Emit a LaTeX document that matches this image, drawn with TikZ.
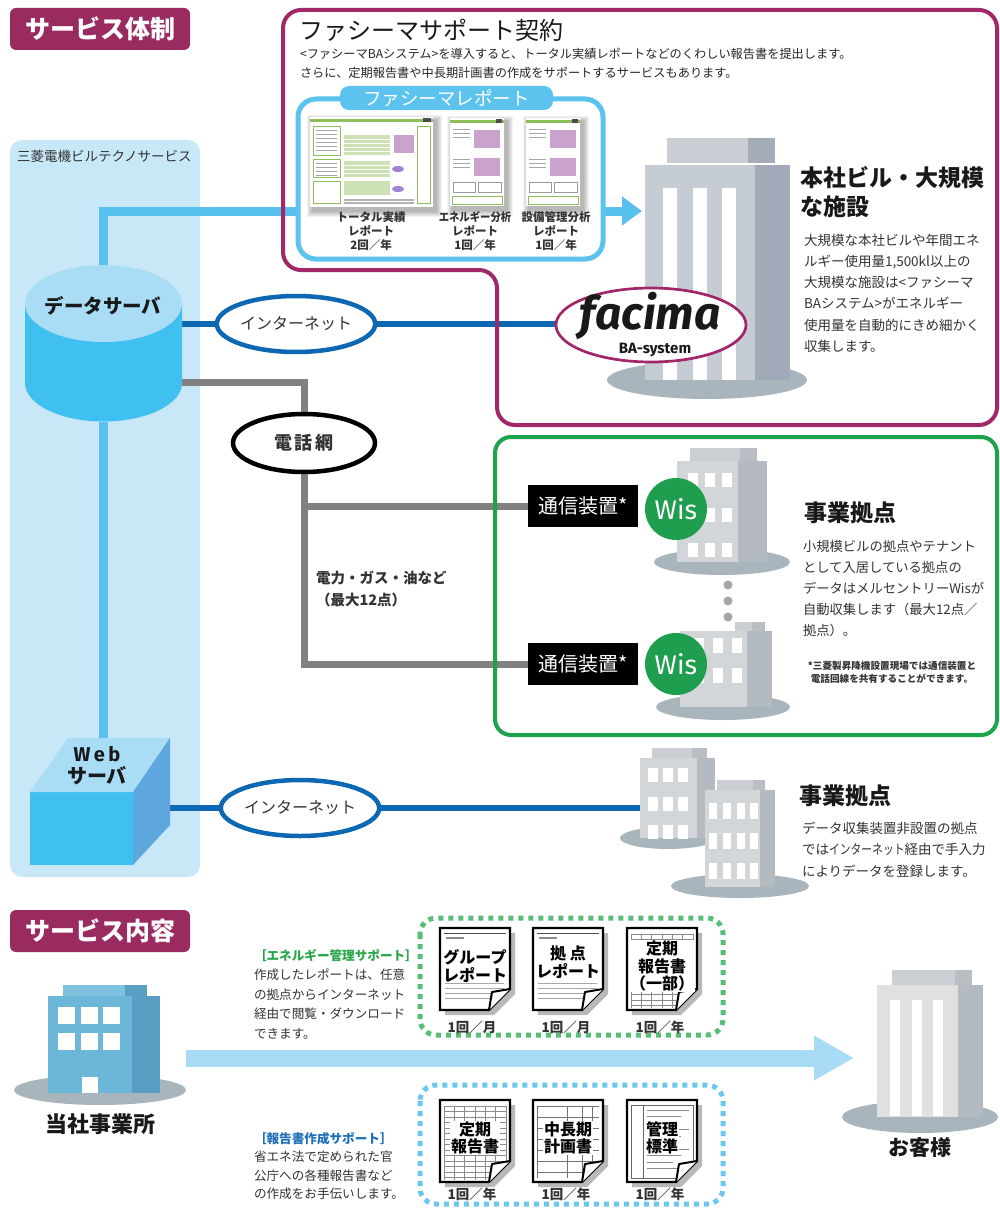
\documentclass[tikz,border=0pt]{standalone}
\usepackage{fontspec}
\usepackage{graphicx}
\setmainfont{Noto Sans CJK JP}
\newfontfamily\latinfont{Fira Sans}
\usetikzlibrary{arrows.meta,shapes.geometric,calc}
\pgfdeclarelayer{back}
\pgfdeclarelayer{wires}
\pgfsetlayers{back,wires,main}

\definecolor{tabmaroon}{HTML}{9A2B60}
\definecolor{contractpurple}{HTML}{A12769}
\definecolor{panelblue}{HTML}{C8E8F8}
\definecolor{skyblue}{HTML}{58C1EE}
\definecolor{reportblue}{HTML}{5BC3EE}
\definecolor{netblue}{HTML}{0C68B2}
\definecolor{wiregray}{HTML}{818181}
\definecolor{framegreen}{HTML}{1CA34C}
\definecolor{wisgreen}{HTML}{1E9E4E}
\definecolor{bodygray}{HTML}{D3D6D9}
\definecolor{sidegray}{HTML}{B3BAC1}
\definecolor{capgray}{HTML}{CBCFD3}
\definecolor{capdark}{HTML}{B8BEC4}
\definecolor{groundgray}{HTML}{A9B5BD}
\definecolor{towerbody}{HTML}{C6CCD4}
\definecolor{towerside}{HTML}{A2AAB9}
\definecolor{towercap}{HTML}{C9CED4}
\definecolor{towercapdark}{HTML}{A4ABB9}
\definecolor{cyltop}{HTML}{A9DCF5}
\definecolor{cylbody}{HTML}{3FC0F0}
\definecolor{cubeside}{HTML}{5DA7DE}
\definecolor{flowblue}{HTML}{A8DBF5}
\definecolor{officebody}{HTML}{6CB6D7}
\definecolor{officeside}{HTML}{579FC3}
\definecolor{officecap}{HTML}{7EC2DF}
\definecolor{dotgreen}{HTML}{56BE78}
\definecolor{dotblue}{HTML}{6CC7EF}
\definecolor{labelgreen}{HTML}{2AA64A}
\definecolor{labelblue}{HTML}{1F70B8}
\definecolor{textgray}{HTML}{333333}
\definecolor{thumbgreen}{HTML}{8DBE5A}
\definecolor{thumbpink}{HTML}{C9A3CB}

\newcommand\fsz[2]{\fontsize{#1}{#2}\selectfont}

% gray building parts: x1, y1, x2, y2, start of the shaded side
\newcommand\graybody[5]{%
  \fill[bodygray] (#1,#2) rectangle (#5,#4);
  \fill[sidegray] (#5,#2) rectangle (#3,#4);}
\newcommand\graycap[5]{%
  \fill[capgray] (#1,#2) rectangle (#5,#4);
  \fill[capdark] (#5,#2) rectangle (#3,#4);}

% soft shadow and paper of a report thumbnail
\newcommand\thumbpaper[4]{%
  \foreach \s in {1,...,6} \fill[black, opacity=0.05] (#1+3-\s,#2+4-\s) rectangle (#3+3+\s,#4+4+\s);
  \fill[white] (#1,#2) rectangle (#3,#4);}

% narrow report thumbnail contents (54 x 88)
\newcommand\narrowthumb[2]{%
  \begin{scope}[shift={(#1,#2)}]
    \fill[thumbgreen] (0,2) rectangle (54,5);
    \fill[black!70] (46,1) rectangle (52,5);
    \foreach \r in {0,1,2} \draw[black!35, line width=0.5pt] (3,11+\r*4) -- (20,11+\r*4);
    \fill[thumbpink] (24,12) rectangle (50,30);
    \foreach \r in {0,1,2} \draw[black!35, line width=0.5pt] (3,41+\r*4) -- (20,41+\r*4);
    \fill[thumbpink] (24,40) rectangle (50,58);
    \draw[black!40, line width=0.5pt] (3,64) rectangle (25,74) (28,64) rectangle (51,74);
    \draw[thumbgreen, line width=0.8pt] (2,78) rectangle (52,86);
  \end{scope}}

% document sheet with folded corner: x, y, contents macro
\newcommand\sheet[3]{%
  \fill[black!28] (#1+5,#2+5) -- (#1+75,#2+5) -- (#1+75,#2+66) -- (#1+54,#2+87) -- (#1+5,#2+87) -- cycle;
  \fill[white] (#1,#2) -- (#1+70,#2) -- (#1+70,#2+61) -- (#1+49,#2+82) -- (#1,#2+82) -- cycle;
  \begin{scope}
    \clip (#1,#2) -- (#1+70,#2) -- (#1+70,#2+61) -- (#1+49,#2+82) -- (#1,#2+82) -- cycle;
    #3{#1}{#2}
  \end{scope}
  \draw[line width=2.3pt, line join=miter] (#1,#2) -- (#1+70,#2) -- (#1+70,#2+61) -- (#1+49,#2+82) -- (#1,#2+82) -- cycle;
  \draw[line width=2pt, fill=white, line join=round] (#1+49,#2+82) -- (#1+52,#2+64) -- (#1+70,#2+61);}
\newcommand\sheetlines[2]{%
  \draw[black!70, line width=0.9pt] (#1+4,#2+5) -- (#1+66,#2+5);
  \fill[black!45] (#1+6,#2+9) rectangle (#1+24,#2+11);
  \foreach \k in {0,...,4} \draw[black!35, line width=0.6pt] (#1+5,#2+50+\k*5) -- (#1+64,#2+50+\k*5);}
\newcommand\sheetform[2]{%
  \foreach \k in {0,...,13} \draw[black!45, line width=0.5pt] (#1+4,#2+6+\k*5.5) -- (#1+66,#2+6+\k*5.5);
  \foreach \k in {0,...,6} \draw[black!45, line width=0.5pt] (#1+4+\k*10.3,#2+6) -- (#1+4+\k*10.3,#2+80);}
\newcommand\sheettable[2]{%
  \foreach \k in {0,...,6} \draw[black!55, line width=0.6pt] (#1+4,#2+6+\k*11) -- (#1+66,#2+6+\k*11);
  \foreach \k in {0,30,45,55,66} \draw[black!55, line width=0.6pt] (#1+4+\k,#2+6) -- (#1+4+\k,#2+78);}
\newcommand\sheetmixed[2]{%
  \draw[black!60, line width=0.6pt] (#1+4,#2+5) rectangle (#1+66,#2+78);
  \draw[black!60, line width=0.6pt] (#1+16,#2+5) -- (#1+16,#2+78);
  \foreach \k/\w in {0/42,1/34,2/26,3/42,4/34,5/26,6/42,7/34,8/26,9/42} \draw[black!45, line width=1pt] (#1+20,#2+10+\k*6.5) -- (#1+20+\w,#2+10+\k*6.5);}

\begin{document}
\begin{tikzpicture}[x=1pt,y=-1pt,
  every node/.style={inner sep=0pt, outer sep=0pt},
  sectiontab/.style={fill=tabmaroon, rounded corners=6pt, text=white, font=\fsz{25}{30}\bfseries, minimum width=180pt, minimum height=42pt},
  netcloud/.style={ellipse, draw=netblue, line width=4.5pt, fill=white, minimum width=140pt, minimum height=56pt, font=\fsz{16}{19}, text=textgray},
  telcloud/.style={ellipse, draw=black, line width=4.5pt, fill=white, minimum width=142pt, minimum height=58pt, font=\fsz{18}{20}\bfseries, text=textgray},
  modem/.style={fill=black, text=white, minimum width=110pt, minimum height=42pt, font=\fsz{20}{24}},
  wis/.style={circle, fill=wisgreen, text=white, minimum size=62pt, font=\latinfont\fsz{27}{27}},
  skyline/.style={draw=skyblue, line width=9pt},
  netline/.style={draw=netblue, line width=6pt},
  telline/.style={draw=wiregray, line width=7pt},
  bodytext/.style={text=textgray, align=left, anchor=north west},
  heading/.style={font=\fsz{23}{29}\bfseries, anchor=north west, align=left, text=black!90},
  freq/.style={font=\fsz{13.5}{16}\bfseries, text=textgray},
  doctext/.style={font=\fsz{16}{17.5}\bfseries, align=center, fill=white, inner sep=1pt},
  thumblabel/.style={font=\fsz{11.5}{14}\bfseries, align=center, text=textgray},
]
\useasboundingbox (0,0) rectangle (1000,1209);
\begin{pgfonlayer}{back}
  \fill[white] (0,0) rectangle (1000,1209);
  \fill[panelblue, rounded corners=12pt] (10,140) rectangle (200,877);
\end{pgfonlayer}

% ---------- section tabs ----------
\node[sectiontab] (tabsystem) at (100,29) {サービス体制};
\node[sectiontab] (tabservice) at (100,931) {サービス内容};

\node[anchor=west, font=\fsz{13.5}{16}, text=textgray] (provider) at (17,156) {三菱電機ビルテクノサービス};

% ---------- facima support contract ----------
\draw[contractpurple, line width=4pt, rounded corners=18pt]
  (283,140) -- (283,10) -- (997,10) -- (997,425) -- (497,425) -- (497,270) -- (283,270) -- cycle;
\node[anchor=west, font=\fsz{24}{28}, text=black!90] (contracttitle) at (299,30) {ファシーマサポート契約};
\node[bodytext, font=\fsz{12.2}{19.5}, text=black!85] (contracttext) at (300,48)
  {<ファシーマBAシステム>を導入すると、トータル実績レポートなどのくわしい報告書を提出します。\\
   さらに、定期報告書や中長期計画書の作成をサポートするサービスもあります。};

% report panel
\draw[reportblue, line width=5pt, fill=white, rounded corners=18pt] (298,99) rectangle (603,259);
\node[fill=reportblue, rounded corners=9pt, minimum width=213pt, minimum height=24pt, text=white, font=\fsz{18.5}{20}] (reporttab) at (446.5,98) {ファシーマレポート};

% report thumbnails
\thumbpaper{310}{117}{433}{207}
\begin{scope}[shift={(310,117)}]
  \fill[thumbgreen] (0,2) rectangle (123,5);
  \fill[black!70] (113,1) rectangle (121,5);
  \draw[thumbgreen, line width=0.8pt] (3,9) rectangle (30,38) (3,42) rectangle (30,60) (3,64) rectangle (30,86) (107,9) rectangle (120,86);
  \foreach \r in {0,...,5} \draw[black!35, line width=0.5pt] (6,13+\r*4) -- (27,13+\r*4);
  \foreach \r in {0,...,3} \draw[black!35, line width=0.5pt] (6,46+\r*4) -- (27,46+\r*4);
  \fill[thumbgreen!45] (34,18) rectangle (80,38);
  \fill[thumbgreen!45] (34,44) rectangle (80,60);
  \fill[thumbgreen!45] (34,64) rectangle (80,78);
  \foreach \r in {0,...,4} \draw[white, line width=0.6pt] (34,22+\r*4) -- (80,22+\r*4);
  \foreach \r in {0,...,3} \draw[white, line width=0.6pt] (34,48+\r*4) -- (80,48+\r*4);
  \fill[thumbpink] (84,18) rectangle (104,36);
  \fill[thumbpink!80!blue] (88,52) ellipse [x radius=6pt, y radius=3pt];
  \fill[thumbpink!80!blue] (88,72) ellipse [x radius=6pt, y radius=3pt];
  \foreach \r in {0,...,3} \draw[black!30, line width=0.5pt] (34,82+\r*1.5) -- (104,82+\r*1.5);
\end{scope}
\thumbpaper{450}{118}{504}{206}
\narrowthumb{450}{118}
\thumbpaper{526}{118}{580}{206}
\narrowthumb{526}{118}
\node[thumblabel] (lbltotal) at (371,231) {トータル実績\\レポート\\2回／年};
\node[thumblabel] (lblenergy) at (475,231) {\scalebox{0.9}[1]{エネルギー分析}\\レポート\\1回／年};
\node[thumblabel] (lblequip) at (556,231) {設備管理分析\\レポート\\1回／年};

% head-office building
\fill[groundgray] (707,380) ellipse [x radius=100pt, y radius=19pt];
\fill[towercap] (667,138) rectangle (748,163);
\fill[towercapdark] (748,138) rectangle (775,163);
\fill[towerbody] (645,165) rectangle (755,380);
\fill[towerside] (755,165) rectangle (790,380);
\foreach \sx in {663,693,722} \fill[white] (\sx,188) rectangle (\sx+14,380);
\node[minimum width=145pt, minimum height=242pt] (hq) at (717.5,259) {};
\coordinate (hqin) at (642,211);

\node[ellipse, draw=contractpurple, line width=2.7pt, fill=white, minimum width=190pt, minimum height=74pt] (facima) at (651,325) {};
\node[font=\latinfont\bfseries\itshape\fsz{46}{46}, text=black!90] (facimaword) at (650,316) {facima};
\node[font=\latinfont\bfseries\fsz{15}{15}, text=black!90] (basystem) at (655,350) {BA-system};

\node[heading] (hqtitle) at (800,166) {本社ビル・大規模\\な施設};
\node[bodytext, font=\fsz{13.5}{21.2}] (hqtext) at (804,234)
  {大規模な本社ビルや年間エネ\\ルギー使用量1,500kl以上の\\大規模な施設は<ファシーマ\\BAシステム>がエネルギー\\使用量を自動的にきめ細かく\\収集します。};

% ---------- data server ----------
\fill[cylbody] (25,303.5) -- (25,383) arc[start angle=180, end angle=360, x radius=78.5pt, y radius=38.5pt] -- (182,303.5) -- cycle;
\fill[cyltop] (103.5,303.5) ellipse [x radius=78.5pt, y radius=38.5pt];
\node[minimum width=157pt, minimum height=156pt] (dataserver) at (103,343.5) {};
\node[font=\fsz{19.5}{22}\bfseries, text=black!90] (dslabel) at (103,306) {データサーバ};
\coordinate (dsnet) at (180,324);
\coordinate (dstel) at (180,382);

% ---------- web server ----------
\fill[cylbody] (30,792) rectangle (133,865);
\fill[cyltop] (30,792) -- (68,738) -- (170,738) -- (133,792) -- cycle;
\fill[cubeside] (133,792) -- (170,738) -- (170,825) -- (133,865) -- cycle;
\node[minimum width=140pt, minimum height=127pt] (webserver) at (103,801.5) {};
\node[font=\fsz{20}{22}\bfseries, align=center, text=black!90] (weblabel) at (97,766) {{\latinfont\bfseries W\,e\,b}\\サーバ};
\coordinate (webnet) at (160,808);

% ---------- networks ----------
\node[netcloud] (net1) at (296,324) {インターネット};
\node[telcloud] (telnet) at (304,443) {電\,話\,網};
\node[netcloud] (net2) at (300,808) {インターネット};
\coordinate (telbend) at (304,382);
\node[bodytext, font=\fsz{14.5}{22}\bfseries] (metering) at (316,571) {電力・ガス・油など\\（最大12点）};

% ---------- branch offices with Wis ----------
\draw[framegreen, line width=4pt, rounded corners=16pt] (495,437) rectangle (997,735);
\fill[groundgray] (722,562) ellipse [x radius=68pt, y radius=13pt];
\graycap{690}{448}{757}{461}{740}
\graybody{677}{461}{767}{562}{738}
\foreach \wx in {688,705,722} \foreach \wy in {473,508,543} \fill[white] (\wx,\wy) rectangle ++(10,14);
\fill[groundgray] (723,707) ellipse [x radius=67pt, y radius=13pt];
\graycap{735}{622}{765}{631}{752}
\graybody{680}{631}{772}{707}{747}
\foreach \wx in {694,713,732} \foreach \wy in {638,668} \fill[white] (\wx,\wy) rectangle ++(10,15);
\foreach \dy in {585,601,617} \fill[black!35] (728,\dy) circle[radius=4.5pt];

\node[modem] (modem1) at (583,506) {通信装置*};
\node[modem] (modem2) at (583,664) {通信装置*};
\node[wis] (wis1) at (676,509) {Wis};
\node[wis] (wis2) at (676,664) {Wis};

\node[heading] (wistitle) at (804,502) {事業拠点};
\node[bodytext, font=\fsz{13.3}{21.2}] (wistext) at (803,540)
  {小規模ビルの拠点やテナント\\として入居している拠点の\\データはメルセントリーWisが\\自動収集します（最大12点／\\拠点）。};
\node[font=\fsz{9.6}{13}\bfseries, align=center, text=textgray] (wisnote) at (892,672)
  {*三菱製昇降機設置現場では通信装置と\\電話回線を共有することができます。};

% ---------- branch offices without collector ----------
\fill[groundgray] (668,838) ellipse [x radius=48pt, y radius=11pt];
\graycap{652}{748}{707}{758}{692}
\graybody{640}{758}{715}{838}{697}
\foreach \wx in {648,663,678} \foreach \wy in {768,797,825} \fill[white] (\wx,\wy) rectangle ++(10,14);
\fill[groundgray] (740,886) ellipse [x radius=69pt, y radius=12pt];
\graycap{717}{780}{765}{790}{753}
\graybody{705}{790}{775}{887}{760}
\foreach \wx in {709,723,737,750} \foreach \wy in {803,833,863} \fill[white] (\wx,\wy) rectangle ++(8,16);
\coordinate (sitein) at (641,808);

\node[heading] (sitetitle) at (799,785) {事業拠点};
\node[bodytext, font=\fsz{13.5}{21.3}] (sitetext) at (802,822)
  {データ収集装置非設置の拠点\\では\scalebox{0.8}[1]{インターネット}経由で手入力\\によりデータを登録します。};

% ---------- connectors ----------
\begin{pgfonlayer}{wires}
  \draw[skyline, -{Triangle[length=20pt,width=28pt]}] (dataserver.north) |- (hqin);
  \draw[skyline] (dataserver.south) -- (dataserver.south |- webserver.north);
  \draw[netline] (dsnet) -- (net1) -- (net1 -| facima.west);
  \draw[telline] (dstel) -- (telbend) |- (modem2.west);
  \draw[telline] (telbend |- modem1.west) -- (modem1.west);
  \draw[netline] (webnet) -- (net2) -- (sitein);
\end{pgfonlayer}

% ---------- service contents ----------
% own office
\fill[groundgray] (100,1090) ellipse [x radius=86pt, y radius=15pt];
\fill[officecap] (63,985) rectangle (125,996);
\fill[officeside] (125,985) rectangle (147,996);
\fill[officebody] (48,996) rectangle (132,1093);
\fill[officeside] (132,996) rectangle (160,1093);
\foreach \wx in {58,81,103} \foreach \wy in {1007,1033} \fill[white] (\wx,\wy) rectangle ++(17,17);
\fill[white] (82,1077) rectangle (98,1093);
\node[minimum width=112pt, minimum height=108pt] (office) at (104,1040) {};
\node[font=\fsz{22}{24}\bfseries, text=black!90] (officelabel) at (100,1124) {当社事業所};

% customer
\fill[groundgray] (920,1117) ellipse [x radius=78pt, y radius=16pt];
\fill[capgray] (892,970) rectangle (955,985);
\fill[capdark] (955,970) rectangle (972,985);
\fill[black!12] (877,985) rectangle (958,1117);
\fill[sidegray] (958,985) rectangle (983,1117);
\foreach \sx in {890,912,933} \fill[white] (\sx,1000) rectangle (\sx+10,1116);
\node[minimum width=106pt, minimum height=147pt] (client) at (930,1043) {};
\node[font=\fsz{21}{24}\bfseries, text=black!90] (clientlabel) at (920,1148) {お客様};

\coordinate (flowstart) at (186,1058);
\coordinate (flowend) at (854,1058);
\draw[flowblue, line width=17pt, -{Triangle[length=40pt,width=42pt]}] (flowstart) -- (flowend);

% dotted groups
\draw[dotgreen, line width=5pt, dash pattern=on 5pt off 5pt, rounded corners=16pt] (420,918) rectangle (723,1035);
\draw[dotblue, line width=5pt, dash pattern=on 5pt off 5pt, rounded corners=16pt] (420,1085) rectangle (723,1204);

\sheet{440}{928}{\sheetlines}
\sheet{533}{928}{\sheetlines}
\sheet{627}{928}{\sheetform}
\node[doctext] (docgroup) at (475,966) {グループ\\レポート};
\node[doctext] (docsite) at (568,962) {拠 点\\レポート};
\node[doctext] (docperiodic) at (662,966) {定期\\報告書\\（一部）};
\node[freq] (fq1) at (472,1027) {1回／月};
\node[freq] (fq2) at (566,1027) {1回／月};
\node[freq] (fq3) at (660,1027) {1回／年};

\sheet{440}{1100}{\sheetform}
\sheet{533}{1100}{\sheettable}
\sheet{627}{1100}{\sheetmixed}
\node[doctext] (docreport) at (475,1138) {定期\\報告書};
\node[doctext] (docplan) at (568,1138) {中長期\\計画書};
\node[doctext] (docstandard) at (662,1138) {管理\\標準};
\node[freq] (fq4) at (472,1194) {1回／年};
\node[freq] (fq5) at (566,1194) {1回／年};
\node[freq] (fq6) at (660,1194) {1回／年};

\node[bodytext, font=\fsz{12.6}{19.5}] (energytext) at (254,949)
  {{\color{labelgreen}\bfseries ［エネルギー管理サポート］}\\作成したレポートは、任意\\の拠点からインターネット\\経由で閲覧・ダウンロード\\できます。};
\node[bodytext, font=\fsz{12.6}{18.5}] (reporttext) at (254,1132)
  {{\color{labelblue}\bfseries ［報告書作成サポート］}\\省エネ法で定められた官\\公庁への各種報告書など\\の作成をお手伝いします。};
\end{tikzpicture}
\end{document}
